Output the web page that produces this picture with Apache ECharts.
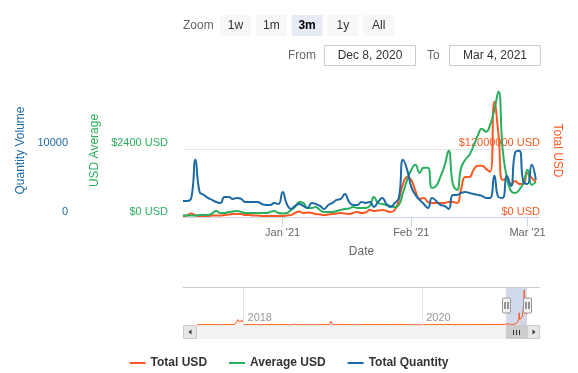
<!DOCTYPE html>
<html><head><meta charset="utf-8">
<script src="https://cdn.jsdelivr.net/npm/echarts@6/dist/echarts.min.js"></script>
<style>html,body{margin:0;padding:0;background:#fff}#c{width:578px;height:373px}</style>
</head><body><div id="c"></div>
<script>
// ---------- data ----------
const startDate = '2020-12-08';
const endDate = '2021-03-04';
const totalUSD = [176000,265000,618000,265000,176000,176000,176000,265000,265000,265000,
353000,441000,529000,529000,529000,353000,353000,265000,265000,176000,
176000,176000,176000,176000,176000,265000,353000,706000,971000,706000,
794000,706000,529000,441000,353000,441000,529000,618000,706000,618000,
529000,706000,882000,706000,794000,1235000,1059000,1147000,1235000,1059000,
882000,1235000,3000000,5824000,7059000,6529000,4588000,3176000,3353000,2647000,
2471000,2471000,2471000,2471000,2647000,2647000,2471000,4941000,7059000,7059000,
8294000,9000000,9000000,8471000,7941000,20290000,14470000,6530000,6710000,5650000,
6350000,5820000,5820000,7760000,6880000,6180000];
const averageUSD = [53,53,53,53,71,71,71,124,212,141,
141,176,194,212,176,141,141,141,141,141,
141,176,212,141,124,141,247,353,529,494,
318,318,353,247,176,176,176,212,247,282,
300,353,318,318,318,388,706,494,459,424,
388,353,424,847,1306,1659,1835,1553,1729,1729,
1023,1094,1412,1800,2329,1165,953,1729,2012,2188,
2506,2859,3106,3000,3247,3776,4412,2365,1376,918,
847,953,1200,1659,1129,1235];
const totalQuantity = [2350,2350,2800,8380,3680,3240,2790,2500,2200,2060,
2940,2940,2650,2790,2650,2200,2200,2200,2200,1910,
1760,1760,2060,1910,3680,1910,1180,1620,1910,1620,
1320,2060,1910,1620,1180,1760,2060,2500,2650,3380,
2210,1760,1760,2210,2060,2210,1470,2210,2790,1910,
1470,2060,2790,8380,6910,4410,3240,2500,1910,1320,
2790,2350,1760,1620,1180,3240,3240,3530,3680,3530,
3380,3240,3090,2790,2790,6030,2940,2790,6030,4560,
9410,9710,5150,4850,7650,5440];
// navigator history (Total USD before the zoomed window)
const historyDates = ['2017-06-25','2017-08-15','2017-10-01','2017-11-20','2017-11-29','2017-12-09','2017-12-17','2017-12-25','2018-01-03',
'2018-03-01','2018-05-01','2018-07-20','2018-07-29','2018-08-08','2018-10-15','2018-12-18','2018-12-24','2018-12-30',
'2019-04-01','2019-08-01','2019-12-01','2020-04-01','2020-08-01','2020-09-20','2020-09-28','2020-10-06','2020-11-01','2020-12-01'];
const historyTotalUSD = [150000,200000,150000,250000,600000,3100000,1600000,3000000,200000,
150000,200000,150000,500000,150000,150000,200000,2100000,200000,
150000,200000,150000,200000,200000,300000,600000,350000,300000,350000];
const xTickDates = ['2021-01-01','2021-02-01','2021-03-01'];
const navTickDates = ['2018-01-01','2020-01-01'];
const quantityTick = 10000, averageTick = 2400, totalTick = 12000000;
const rangeButtons = ['1w','1m','3m','1y','All'];
const selectedButton = '3m';
const fromLabel = 'Dec 8, 2020', toLabel = 'Mar 4, 2021';

// ---------- helpers ----------
const ts = s => { const p = s.split('-').map(Number); return Date.UTC(p[0], p[1]-1, p[2]); };
const DAY = 86400000;
const t0 = ts(startDate), t1 = ts(endDate);
const dates = totalUSD.map((_, i) => t0 + i*DAY);
const pair = arr => arr.map((v, i) => [dates[i], v]);
const MONTHS = ['Jan','Feb','Mar','Apr','May','Jun','Jul','Aug','Sep','Oct','Nov','Dec'];
const RED = '#ff5722', GREEN = '#2aaf5e', BLUE = '#1c6aa4';
const FONT = '"Liberation Sans", Arial, sans-serif';
const navData = historyDates.map((d, i) => [ts(d), historyTotalUSD[i]]).concat(pair(totalUSD));
const SMOOTH = 0.5;

const chart = echarts.init(document.getElementById('c'), null, {renderer: 'canvas'});

// range selector graphics
const graphics = [];
graphics.push({type:'text', x:183, y:25.5, style:{text:'Zoom', fill:'#666', font:'12px '+FONT, verticalAlign:'middle'}});
let bx = 220;
rangeButtons.forEach(b => {
  const sel = b === selectedButton;
  graphics.push({type:'rect', shape:{x:bx, y:15, width:31, height:21}, style:{fill: sel ? '#e6ebf5' : '#f7f7f7'}});
  graphics.push({type:'text', x:bx+15.5, y:25.5, style:{text:b, fill: sel ? '#000' : '#333', font:(sel?'bold ':'')+'12px '+FONT, align:'center', verticalAlign:'middle'}});
  bx += 35.8;
});
graphics.push({type:'text', x:288, y:56, style:{text:'From', fill:'#666', font:'12px '+FONT, verticalAlign:'middle'}});
graphics.push({type:'rect', shape:{x:324.5, y:45.5, width:91, height:20}, style:{fill:'#fff', stroke:'#cccccc', lineWidth:1}});
graphics.push({type:'text', x:370, y:56, style:{text:fromLabel, fill:'#333', font:'12px '+FONT, align:'center', verticalAlign:'middle'}});
graphics.push({type:'text', x:427, y:56, style:{text:'To', fill:'#666', font:'12px '+FONT, verticalAlign:'middle'}});
graphics.push({type:'rect', shape:{x:449.5, y:45.5, width:91, height:20}, style:{fill:'#fff', stroke:'#cccccc', lineWidth:1}});
graphics.push({type:'text', x:495, y:56, style:{text:toLabel, fill:'#333', font:'12px '+FONT, align:'center', verticalAlign:'middle'}});
// navigator outline & scrollbar track
graphics.push({type:'line', shape:{x1:183, y1:287.5, x2:540, y2:287.5}, style:{stroke:'#cccccc', lineWidth:1}, z:10});
graphics.push({type:'rect', shape:{x:183, y:325, width:357, height:14}, style:{fill:'#f2f2f2'}});
graphics.push({type:'rect', shape:{x:183.5, y:325.5, width:13, height:13}, style:{fill:'#e6e6e6', stroke:'#cccccc'}});
graphics.push({type:'polygon', shape:{points:[[191.5,329.5],[191.5,334.5],[188.5,332]]}, style:{fill:'#333'}});
graphics.push({type:'rect', shape:{x:527.5, y:325.5, width:12, height:13}, style:{fill:'#e6e6e6', stroke:'#cccccc'}});
graphics.push({type:'polygon', shape:{points:[[532.5,329.5],[532.5,334.5],[535.5,332]]}, style:{fill:'#333'}});

const yLabelBase = {fontSize:11, fontFamily:FONT, verticalAlign:'bottom', showMaxLabel:false};

const option = {
  animation: false,
  textStyle: {fontFamily: FONT},
  grid: [
    {left:183, top:84, width:357, height:133},
    {left:197, top:287, width:330, height:38}
  ],
  legend: {
    top: 352, left: 'center', itemWidth: 16, itemHeight: 2, itemGap: 22, icon: 'rect',
    textStyle: {fontWeight:'bold', fontSize:12, color:'#333', fontFamily:FONT},
    data: ['Total USD','Average USD','Total Quantity']
  },
  xAxis: [
    {type:'value', gridIndex:0, min:t0, max:t1, scale:true,
     axisLine:{lineStyle:{color:'#ccd6eb'}},
     axisTick:{length:10, lineStyle:{color:'#ccd6eb'}, customValues: xTickDates.map(ts)},
     axisLabel:{customValues: xTickDates.map(ts), color:'#666', fontSize:11, margin:10, hideOverlap:false,
       formatter: v => { const d = new Date(v); return MONTHS[d.getUTCMonth()] + " '" + String(d.getUTCFullYear()).slice(2); }},
     splitLine:{show:false},
     name:'Date', nameLocation:'middle', nameGap:29, nameTextStyle:{color:'#666', fontSize:12}},
    {type:'value', gridIndex:1, min:ts(historyDates[0]), max:t1, scale:true,
     axisLine:{show:false}, axisTick:{show:false, customValues: navTickDates.map(ts)},
     axisLabel:{customValues: navTickDates.map(ts), inside:true, color:'#999', fontSize:11, align:'left', padding:[0,0,0,4], margin:2,
       formatter: v => String(new Date(v).getUTCFullYear())},
     splitLine:{show:false}}
  ],
  yAxis: [
    {type:'value', gridIndex:0, position:'right', min:0, max:totalTick*1.95, interval:totalTick,
     axisLine:{show:false}, axisTick:{show:false}, splitLine:{show:false},
     axisLabel:Object.assign({}, yLabelBase, {inside:true, margin:0, color:RED, formatter: v => '$' + v + ' USD'}),
     name:'Total USD', nameLocation:'middle', nameRotate:-90, nameGap:8, nameTextStyle:{color:RED, fontSize:12}},
    {type:'value', gridIndex:0, position:'left', offset:0, min:0, max:averageTick*1.95, interval:averageTick,
     axisLine:{show:false}, axisTick:{show:false}, splitLine:{show:false},
     axisLabel:Object.assign({}, yLabelBase, {margin:15, color:GREEN, formatter: v => '$' + v + ' USD'}),
     name:'USD Average', nameLocation:'middle', nameGap:79, nameTextStyle:{color:GREEN, fontSize:12}},
    {type:'value', gridIndex:0, position:'left', offset:100, min:0, max:quantityTick*1.95, interval:quantityTick,
     axisLine:{show:false}, axisTick:{show:false}, splitLine:{show:false},
     axisLabel:Object.assign({}, yLabelBase, {margin:15, color:BLUE, formatter: v => String(v)}),
     name:'Quantity Volume', nameLocation:'middle', nameGap:56, nameTextStyle:{color:BLUE, fontSize:12}},
    {type:'value', gridIndex:1, min:0, max:22000000, show:false}
  ],
  series: [
    {name:'Total USD', type:'line', xAxisIndex:0, yAxisIndex:0, data:pair(totalUSD), color:RED,
     smooth:SMOOTH, showSymbol:false, lineStyle:{width:2}, z:2,
     markLine:{silent:true, symbol:'none', label:{show:false}, lineStyle:{color:'#e6e6e6', width:1, type:'solid'},
       data:[{yAxis: totalTick}], z:1}},
    {name:'Average USD', type:'line', xAxisIndex:0, yAxisIndex:1, data:pair(averageUSD), color:GREEN,
     smooth:SMOOTH, showSymbol:false, lineStyle:{width:2}, z:3},
    {name:'Total Quantity', type:'line', xAxisIndex:0, yAxisIndex:2, data:pair(totalQuantity), color:BLUE,
     smooth:SMOOTH, showSymbol:false, lineStyle:{width:2}, z:4},
    {name:'nav', type:'line', xAxisIndex:1, yAxisIndex:3, data:navData, color:RED,
     showSymbol:false, lineStyle:{width:1}, areaStyle:{color:'rgba(255,87,34,0.06)'}, legendHoverLink:false,
     markLine:{silent:true, symbol:'none', label:{show:false}, lineStyle:{color:'#e6e6e6', width:1, type:'solid'},
       data: navTickDates.map(d => ({xAxis: ts(d)}))},
     markArea:{silent:true, itemStyle:{color:'rgba(102,133,194,0.3)'}, data:[[{xAxis:t0},{xAxis:t1}]]}}
  ],
  graphic: graphics
};
chart.setOption(option);

// handles and scrollbar thumb at selection edges
const xa = chart.convertToPixel({xAxisIndex:1}, t0);
const xb = chart.convertToPixel({xAxisIndex:1}, t1);
const extra = [];
[xa, xb].forEach(x => {
  const cx = Math.round(x) + 0.5;
  extra.push({type:'rect', shape:{x:cx-4, y:298, width:8, height:15, r:1}, style:{fill:'#f2f2f2', stroke:'#999', lineWidth:1}, z:20});
  extra.push({type:'line', shape:{x1:cx-1.5, y1:302, x2:cx-1.5, y2:309}, style:{stroke:'#333', lineWidth:1}, z:21});
  extra.push({type:'line', shape:{x1:cx+1.5, y1:302, x2:cx+1.5, y2:309}, style:{stroke:'#333', lineWidth:1}, z:21});
});
extra.push({type:'rect', shape:{x:xa, y:325, width:xb-xa, height:14}, style:{fill:'#cccccc'}, z:15});
const mid = Math.round((xa+xb)/2) + 0.5;
[-3,0,3].forEach(o => extra.push({type:'line', shape:{x1:mid+o, y1:330, x2:mid+o, y2:335}, style:{stroke:'#333', lineWidth:1}, z:16}));
chart.setOption({graphic: graphics.concat(extra)});
</script>
</body></html>
